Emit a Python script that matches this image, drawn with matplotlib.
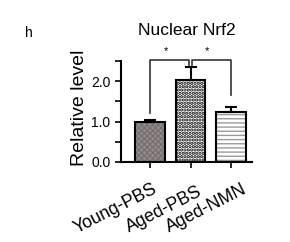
import matplotlib
matplotlib.use("Agg")
import matplotlib.pyplot as plt
from matplotlib.transforms import ScaledTranslation

plt.rcParams['font.family'] = ['Liberation Sans', 'DejaVu Sans']

categories = ["Young-PBS", "Aged-PBS", "Aged-NMN"]
values = [1.0, 2.02, 1.24]
errors = [0.04, 0.33, 0.13]
yticks = [0.0, 1.0, 2.0]
title = "Nuclear Nrf2"
ylabel = "Relative level"
panel = "h"
sig_pairs = [(0, 1), (1, 2)]
sig_labels = ["*", "*"]

fig = plt.figure(figsize=(2.9, 2.42), dpi=100)
ax = fig.add_axes([0.417, 0.331, 0.452, 0.417])
x = list(range(len(categories)))
w = 0.72

faces = ['#938b8b', 'white', 'white']
hatches = ['xxxxxx', '.....', '----']
hcolors = ['#756d6d', 'black', '#9a9a9a']
hlw = [0.8, 1.6, 1.0]
for i in x:
    with plt.rc_context({'hatch.linewidth': hlw[i]}):
        ax.bar(x[i], values[i], width=w, color=faces[i], hatch=hatches[i],
               edgecolor=hcolors[i], linewidth=0, zorder=2)
    ax.bar(x[i], values[i], width=w, facecolor='none', edgecolor='black',
           linewidth=1.5, zorder=3)
ax.errorbar(x, values, yerr=[[0]*3, errors], fmt='none', ecolor='black',
            elinewidth=1.5, capsize=4, capthick=1.5, zorder=4)

ax.set_xlim(-0.72, 2.52)
ax.set_ylim(0, 2.5)
ax.set_yticks([0, 0.5, 1.0, 1.5, 2.0, 2.5])
ax.set_yticklabels(['0.0', '', '1.0', '', '2.0', ''], fontsize=10)
ax.set_xticks(x)
labels = ax.set_xticklabels(categories, rotation=27, ha='right',
                            rotation_mode='anchor', fontsize=12.8)
ax.tick_params(axis='both', direction='out', length=4, width=1.2)
ax.tick_params(axis='x', pad=9.5)
shifts = [(2, 0), (7, -3), (11, 0)]
for lab, (dx, dy) in zip(labels, shifts):
    lab.set_transform(lab.get_transform() +
                      ScaledTranslation(dx / 100, dy / 100, fig.dpi_scale_trans))
for s in ['top', 'right']:
    ax.spines[s].set_visible(False)
for s in ['left', 'bottom']:
    ax.spines[s].set_linewidth(1.5)
ax.set_ylabel(ylabel, fontsize=14, labelpad=2, y=0.54)
ax.set_title(title, fontsize=12.5, pad=19)

# significance brackets
top = 2.53
legs = [(1.22, 2.39), (2.39, 1.65)]
offs = [(0, -0.03), (0.03, 0)]
for (a, b), lab, (l1, l2), (o1, o2) in zip(sig_pairs, sig_labels, legs, offs):
    xa, xb = a + o1, b + o2
    ax.plot([xa, xa, xb, xb], [l1, top, top, l2], color='#333333', lw=1.2,
            clip_on=False, zorder=5)
    ax.text((xa + xb) / 2 - 0.1, top + 0.1, lab, ha='center', va='bottom',
            fontsize=8, clip_on=False)

fig.text(29/290, 1 - 33/242, panel, fontsize=10, ha='center', va='center')
fig.savefig("out.png", dpi=100)
